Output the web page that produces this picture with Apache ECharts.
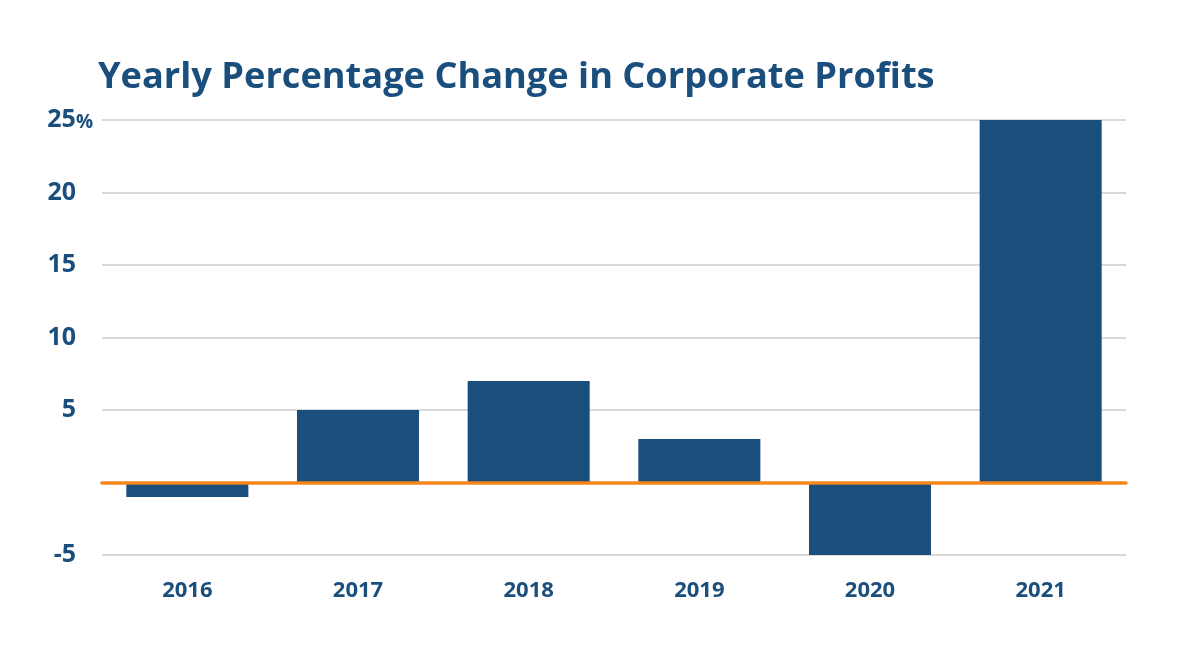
<!DOCTYPE html>
<html>
<head>
<meta charset="utf-8">
<script src="https://cdn.jsdelivr.net/npm/echarts@6/dist/echarts.min.js"></script>
<style>html,body{margin:0;padding:0;background:#fff;}#c{width:1199px;height:667px;}</style>
</head>
<body>
<div id="c"></div>
<script>
const years = ['2016', '2017', '2018', '2019', '2020', '2021'];
const changes = [-1, 5, 7, 3, -5, 25];
const yTicks = [-5, 0, 5, 10, 15, 20, 25];

const navy = '#1a4e7c';
const chart = echarts.init(document.getElementById('c'));
chart.setOption({
  backgroundColor: '#fff',
  animation: false,
  title: {
    text: 'Yearly Percentage Change in Corporate Profits',
    left: 93, top: 55,
    textStyle: { fontFamily: 'Open Sans', fontWeight: 'bold', fontSize: 36.2, color: navy }
  },
  grid: { left: 102, right: 73, top: 120, bottom: 112 },
  xAxis: {
    type: 'category', data: years, z: 5,
    axisLine: { onZero: true, lineStyle: { color: '#f5861c', width: 3.5 } },
    axisTick: { show: false },
    axisLabel: { fontFamily: 'Open Sans', fontWeight: 'bold', fontSize: 22, color: navy, margin: 25 }
  },
  yAxis: {
    type: 'value', min: yTicks[0], max: yTicks[yTicks.length - 1], interval: 5,
    axisLine: { show: false }, axisTick: { show: false },
    splitLine: { lineStyle: { color: '#d9d9d9', width: 2 } },
    axisLabel: {
      margin: 9,
      formatter: v => v === 0 ? '' : (v === 25 ? '{a|' + v + '}{p|%}' : '{a|' + v + '}{s|}'),
      rich: {
        a: { fontFamily: 'Open Sans', fontWeight: 'bold', fontSize: 25, color: navy },
        p: { fontFamily: 'Open Sans', fontWeight: 'bold', fontSize: 19, color: navy, padding: [5, 0, 0, 0] },
        s: { width: 17 }
      }
    }
  },
  series: [{
    type: 'bar', data: changes, barWidth: '71.5%',
    itemStyle: { color: navy }
  }]
});
</script>
</body>
</html>
